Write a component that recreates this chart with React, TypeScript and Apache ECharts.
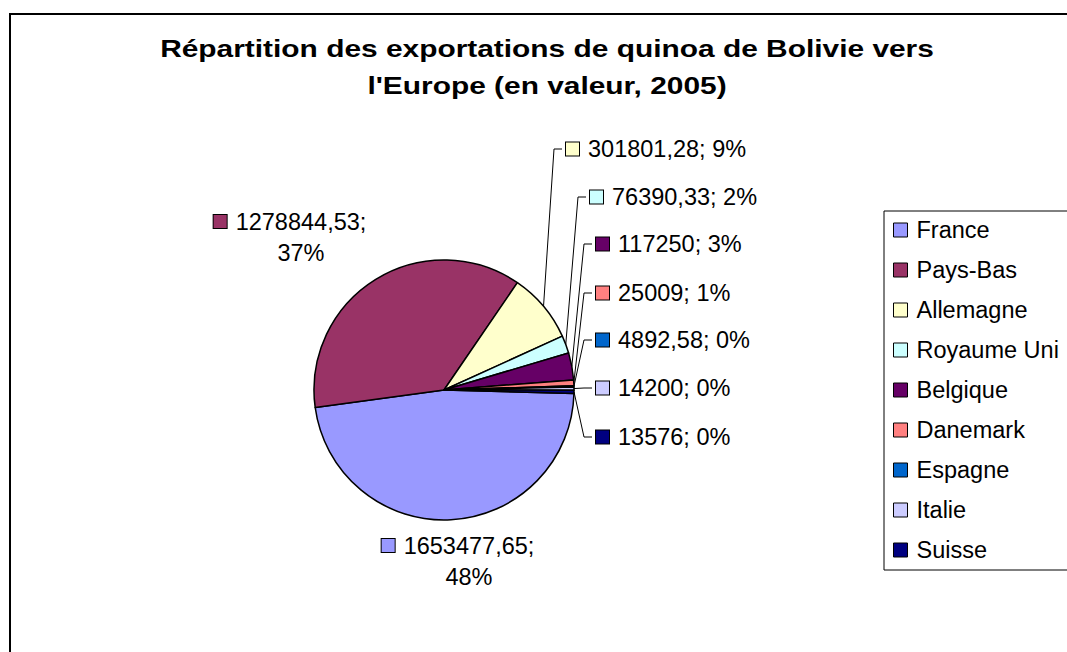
import React, { useEffect, useRef } from "react";
import * as echarts from "echarts";

const countries = ["France", "Pays-Bas", "Allemagne", "Royaume Uni", "Belgique", "Danemark", "Espagne", "Italie", "Suisse"];
const values = [1653477.65, 1278844.53, 301801.28, 76390.33, 117250, 25009, 4892.58, 14200, 13576];
const colors = ["#9999FF", "#993366", "#FFFFCC", "#CCFFFF", "#660066", "#FF8080", "#0066CC", "#CCCCFF", "#000080"];
const titleLines = ["Répartition des exportations de quinoa de Bolivie vers", "l'Europe (en valeur, 2005)"];

// label anchor layout (pixels): France & Pays-Bas centered two-line labels, the rest left-aligned with leader lines
const labelAnchors = [
  { x: 458, y: 561, mode: "center" },
  { x: 290, y: 237, mode: "center" },
  { x: 566, y: 149, mode: "left" },
  { x: 590, y: 197, mode: "left" },
  { x: 596, y: 244, mode: "left" },
  { x: 596, y: 293, mode: "left" },
  { x: 596, y: 340, mode: "left" },
  { x: 596, y: 388, mode: "left" },
  { x: 596, y: 437, mode: "left" },
];

const FONT = "'Liberation Sans', Arial, sans-serif";
const FS = 23.5;
const fmt = (v: number) => String(v).replace(".", ",");

export default function App() {
  const ref = useRef<HTMLDivElement>(null);
  useEffect(() => {
    document.body.style.margin = "0";
    const chart = echarts.init(ref.current!, null, { renderer: "svg" });
    const rich: any = {
      t: { fontSize: FS, fontFamily: FONT, color: "#000", padding: [0, 0, 0, 9], lineHeight: 31 },
      p: { fontSize: FS, fontFamily: FONT, color: "#000", padding: [0, 0, 0, 22], lineHeight: 31 },
    };
    colors.forEach((c, i) => {
      rich["sq" + i] = { width: 13, height: 13, backgroundColor: c, borderColor: "#000", borderWidth: 1 };
    });
    chart.setOption({
      animation: false,
      backgroundColor: "#fff",
      graphic: [
        {
          type: "rect",
          z: -10,
          shape: { x: 10, y: 14, width: 1200, height: 800 },
          style: { fill: "none", stroke: "#000", lineWidth: 2 },
        },
        {
          type: "text",
          x: 547,
          y: 68,
          scaleX: 1.3,
          style: {
            text: titleLines.join("\n"),
            textAlign: "center",
            textVerticalAlign: "middle",
            fontFamily: FONT,
            fontWeight: "bold",
            fontSize: 23,
            lineHeight: 37,
            fill: "#000",
          },
        },
      ],
      legend: {
        orient: "vertical",
        left: 884,
        top: 211,
        data: countries,
        icon: "rect",
        itemWidth: 14,
        itemHeight: 14,
        itemGap: 16,
        itemStyle: { borderColor: "#000", borderWidth: 1 },
        textStyle: { fontSize: FS, fontFamily: FONT, color: "#000", padding: [0, 0, 0, 4], lineHeight: 24 },
        borderColor: "#000",
        borderWidth: 1,
        padding: [7, 40, 8, 9],
        backgroundColor: "#fff",
      },
      series: [
        {
          type: "pie",
          center: [444, 390],
          radius: 130,
          startAngle: -1.5,
          clockwise: true,
          percentPrecision: 0,
          avoidLabelOverlap: false,
          itemStyle: { borderColor: "#000", borderWidth: 1.5 },
          label: {
            show: true,
            position: "outside",
            fontFamily: FONT,
            fontSize: FS,
            color: "#000",
            rich,
            formatter: (p: any) => {
              const i = p.dataIndex;
              if (labelAnchors[i].mode === "center") {
                return `{sq${i}|}{t|${fmt(p.value)};}\n{p|${p.percent}%}`;
              }
              return `{sq${i}|}{t|${fmt(p.value)}; ${p.percent}%}`;
            },
          },
          labelLine: { show: true, lineStyle: { color: "#000", width: 1 } },
          labelLayout: (params: any) => {
            const a = labelAnchors[params.dataIndex];
            if (a.mode === "center") {
              return { x: a.x, y: a.y, align: "center", verticalAlign: "middle" };
            }
            const start = params.labelLinePoints ? params.labelLinePoints[0] : [a.x, a.y];
            return {
              x: a.x,
              y: a.y,
              align: "left",
              verticalAlign: "middle",
              labelLinePoints: [start, [a.x - 12, a.y], [a.x - 4, a.y]],
            };
          },
          data: countries.map((n, i) => ({
            name: n,
            value: values[i],
            itemStyle: { color: colors[i] },
            labelLine: { show: labelAnchors[i].mode !== "center" },
          })),
        },
      ],
    });
    return () => chart.dispose();
  }, []);
  return <div ref={ref} style={{ width: 1067, height: 652 }} />;
}
